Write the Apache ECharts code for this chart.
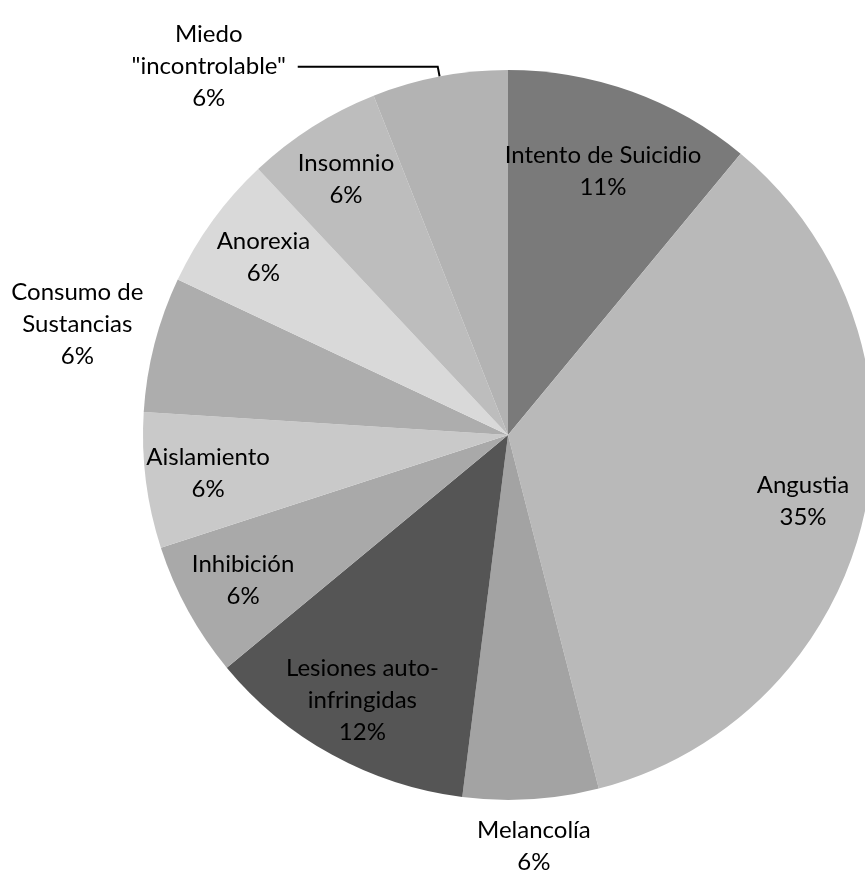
<!DOCTYPE html>
<html>
<head>
<meta charset="utf-8">
<title>Pie</title>
<script src="https://cdn.jsdelivr.net/npm/echarts@6/dist/echarts.min.js"></script>
<style>
  html, body { margin: 0; padding: 0; background: #fff; }
  #chart { width: 865px; height: 873px; }
</style>
</head>
<body>
<div id="chart"></div>
<script>
// categories, clockwise from 12 o'clock
var categories = [
  'Intento de Suicidio',
  'Angustia',
  'Melancolía',
  'Lesiones auto-\ninfringidas',
  'Inhibición',
  'Aislamiento',
  'Consumo de\nSustancias',
  'Anorexia',
  'Insomnio',
  'Miedo\n"incontrolable"'
];
var values = [11, 35, 6, 12, 6, 6, 6, 6, 6, 6];
var grays = ['#7a7a7a', '#b9b9b9', '#a3a3a3', '#555555', '#a9a9a9',
             '#c9c9c9', '#adadad', '#d9d9d9', '#bdbdbd', '#b3b3b3'];

// which ring each label sits on ('lead' = outside with a leader line)
var labelPlace = ['in2', 'in', 'below', 'in', 'in', 'in', 'left', 'in', 'in', 'lead'];

var center = [508, 435];
var R = 365;
var font = { fontFamily: 'Lato', fontSize: 24, lineHeight: 32, color: '#000' };
var richT = { t: Object.assign({ align: 'center', width: 170 }, font) };

function labelText(p) {
  return p.name.split('\n').map(function (s) { return '{t|' + s + '}'; }).join('\n') +
    '\n{t|' + p.value + '%}';
}

// invisible ring whose middle is where the labels go
function labelRing(which, mid) {
  return {
    type: 'pie',
    center: center,
    radius: [R * (mid - 0.18), R * (mid + 0.18)],
    startAngle: 90,
    silent: true,
    itemStyle: { color: 'rgba(0,0,0,0)' },
    label: { position: 'inside', formatter: labelText, rich: richT },
    labelLine: { show: false },
    data: categories.map(function (c, i) {
      return { name: c, value: values[i], label: { show: labelPlace[i] === which } };
    })
  };
}

var option = {
  animation: false,
  series: [
    {
      // the slices
      type: 'pie',
      center: center,
      radius: R,
      startAngle: 90,
      clockwise: true,
      silent: true,
      itemStyle: { borderWidth: 0 },
      data: categories.map(function (c, i) {
        var d = { name: c, value: values[i], itemStyle: { color: grays[i] } };
        if (labelPlace[i] === 'lead') {
          d.label = { show: true, position: 'outside', formatter: labelText, rich: richT, distanceToLabelLine: 4 };
          d.labelLine = { show: true, length: 10, length2: 140,
            lineStyle: { color: '#000', width: 2 } };
        } else {
          d.label = { show: false };
        }
        return d;
      })
    },
    labelRing('in', 0.82),
    labelRing('in2', 0.76),
    labelRing('below', 1.12),
    labelRing('left', 1.21)
  ]
};

var myChart = echarts.init(document.getElementById('chart'));
myChart.setOption(option);
</script>
</body>
</html>
